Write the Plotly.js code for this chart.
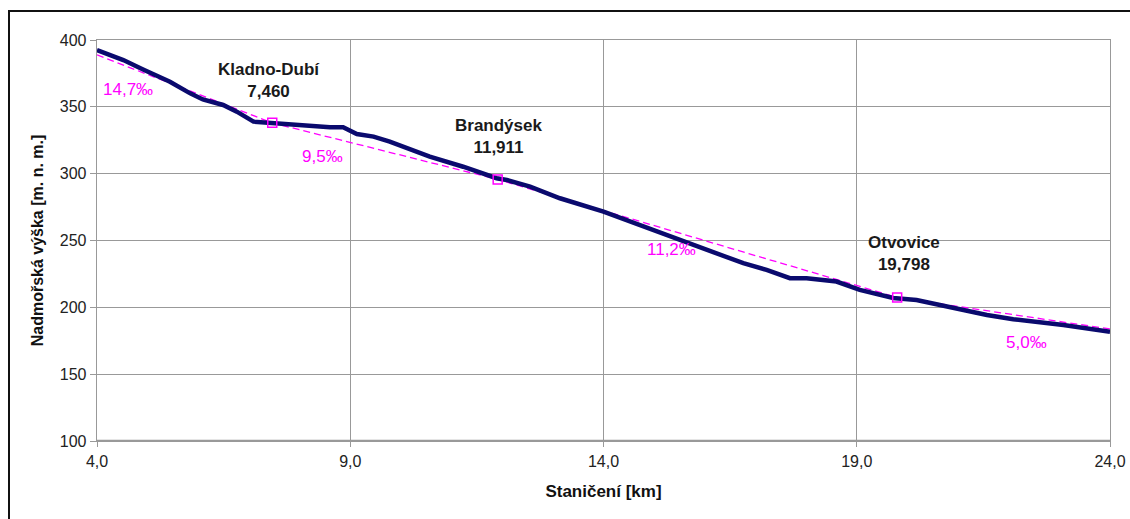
<!DOCTYPE html>
<html>
<head>
<meta charset="utf-8">
<script src="https://cdn.plot.ly/plotly-3.0.1.min.js"></script>
<style>
  html, body { margin: 0; padding: 0; background: #fff; }
  #wrap { position: relative; width: 1130px; height: 519px; overflow: hidden; }
  #frame { position: absolute; left: 8px; top: 10px; width: 1130px; height: 520px;
           border-left: 2px solid #111; border-top: 2px solid #111; pointer-events: none; z-index: 5; }
  #chart { position: absolute; left: 0; top: 0; width: 1130px; height: 519px; }
</style>
</head>
<body>
<div id="wrap">
  <div id="chart"></div>
  <div id="frame"></div>
</div>
<script>
// Elevation profile (km, m a.s.l.)
const profileX = [4.0, 4.52, 4.91, 5.44, 5.84, 6.09, 6.49, 6.76, 7.09, 7.45, 7.94, 8.14, 8.6, 8.86, 8.93, 9.13, 9.46, 9.78, 10.57, 11.23, 11.89, 12.09, 12.55, 13.14, 14.0, 14.79, 15.77, 16.76, 17.22, 17.68, 18.01, 18.34, 18.6, 19.06, 19.72, 20.18, 20.91, 21.57, 22.09, 23.08, 24.0];
const profileY = [392.5, 385.0, 378.0, 368.8, 360.1, 355.5, 351.4, 346.4, 338.9, 337.7, 336.5, 335.7, 334.7, 334.7, 333.5, 329.7, 327.7, 324.0, 312.7, 305.2, 296.6, 295.3, 290.3, 281.6, 271.6, 260.4, 246.7, 233.0, 228.0, 221.8, 221.8, 220.5, 219.3, 213.0, 207.0, 205.5, 199.3, 194.3, 191.1, 186.8, 181.8];

// Gradient (trend) line
const trendX = [4.0, 7.46, 11.911, 19.798, 24.0];
const trendY = [388.9, 338.0, 295.7, 207.4, 183.8];

// Stations
const stationNames = ["Kladno-Dubí", "Brandýsek", "Otvovice"];
const stationKm = [7.46, 11.911, 19.798];
const stationKmLabels = ["7,460", "11,911", "19,798"];
const stationY = [338.0, 295.7, 207.4];
const stationLabelX = [7.4, 11.93, 19.94];
const stationLabelY = [370, 327.5, 240];

// Gradient labels
const gradLabels = ["14,7‰", "9,5‰", "11,2‰", "5,0‰"];
const gradLabelX = [4.62, 8.45, 15.35, 22.35];
const gradLabelY = [363, 313, 243, 174];

// Axis ticks
const xTicks = [4, 9, 14, 19, 24];
const yTicks = [100, 150, 200, 250, 300, 350, 400];

const magenta = '#ff00ff';
const navy = '#0a0a6e';

const traces = [
  {
    x: trendX, y: trendY, mode: 'lines', type: 'scatter',
    line: { color: magenta, width: 1.3, dash: '7px,4px' },
    hoverinfo: 'skip', showlegend: false
  },
  {
    x: profileX, y: profileY, mode: 'lines', type: 'scatter',
    line: { color: navy, width: 4.5 },
    showlegend: false
  },
  {
    x: stationKm, y: stationY, mode: 'markers', type: 'scatter',
    marker: { symbol: 'square-open', size: 9, color: magenta, line: { width: 1.5, color: magenta } },
    showlegend: false
  }
];

const annotations = [];
for (let i = 0; i < stationNames.length; i++) {
  annotations.push({
    x: stationLabelX[i], y: stationLabelY[i], xref: 'x', yref: 'y',
    text: '<b>' + stationNames[i] + '</b><br><b>' + stationKmLabels[i] + '</b>',
    showarrow: false, align: 'center',
    font: { family: 'Liberation Sans, Arial, sans-serif', size: 17, color: '#1a1a1a' }
  });
}
for (let i = 0; i < gradLabels.length; i++) {
  annotations.push({
    x: gradLabelX[i], y: gradLabelY[i], xref: 'x', yref: 'y',
    text: gradLabels[i], showarrow: false,
    font: { family: 'Liberation Sans, Arial, sans-serif', size: 17, color: magenta }
  });
}

const layout = {
  width: 1130, height: 519,
  margin: { l: 97, r: 20, t: 40, b: 78 },
  paper_bgcolor: '#ffffff', plot_bgcolor: '#ffffff',
  font: { family: 'Liberation Sans, Arial, sans-serif', size: 16, color: '#222' },
  separators: ',.',
  xaxis: {
    range: [4, 24], tickvals: xTicks, tickformat: '.1f',
    showgrid: true, gridcolor: '#999', gridwidth: 1.3,
    showline: true, linecolor: '#999', linewidth: 1.3, mirror: true,
    ticks: 'outside', ticklen: 5, tickcolor: '#999',
    zeroline: false,
    tickfont: { size: 16, color: '#222' },
    title: { text: '<b>Staničení [km]</b>', font: { size: 17, color: '#111' }, standoff: 16 }
  },
  yaxis: {
    range: [100, 400], tickvals: yTicks,
    showgrid: true, gridcolor: '#999', gridwidth: 1.3,
    showline: true, linecolor: '#999', linewidth: 1.3, mirror: true,
    ticks: 'outside', ticklen: 6, tickcolor: '#999',
    zeroline: false,
    tickfont: { size: 16, color: '#222' },
    title: { text: '<b>Nadmořská výška [m. n. m.]</b>', font: { size: 16, color: '#111' }, standoff: 12 }
  },
  shapes: [
    { type: 'line', xref: 'paper', yref: 'y', x0: 0, x1: 1, y0: 100, y1: 100,
      line: { color: '#999', width: 2.5 } }
  ],
  annotations: annotations
};

Plotly.newPlot('chart', traces, layout, { displayModeBar: false, staticPlot: true });
</script>
</body>
</html>
